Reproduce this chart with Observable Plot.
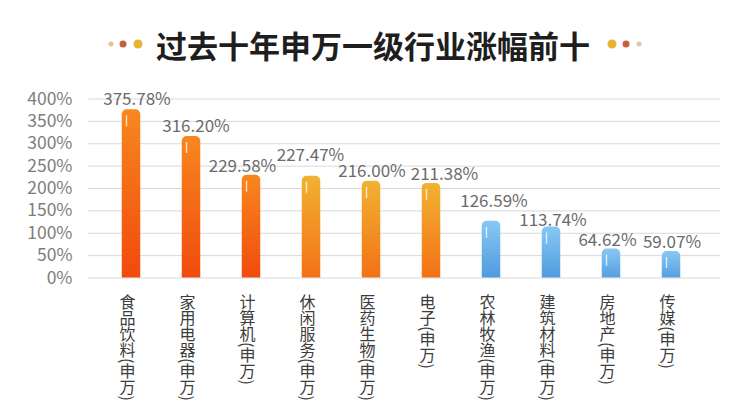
<!DOCTYPE html>
<html>
<head>
<meta charset="utf-8">
<script src="https://cdn.jsdelivr.net/npm/d3@7"></script>
<script src="https://cdn.jsdelivr.net/npm/@observablehq/plot@0.6"></script>
<style>
  html, body { margin: 0; padding: 0; background: #fff; }
  body { width: 752px; height: 419px; overflow: hidden; font-family: "Noto Sans CJK SC", "Noto Sans", sans-serif; }
  #header { position: relative; width: 752px; height: 80px; }
  #title { position: absolute; left: 373px; top: 44px; transform: translate(-50%, -50%); white-space: nowrap;
           font-size: 31px; font-weight: 700; color: #1e1e1e; letter-spacing: 0px; }
  .dot { position: absolute; border-radius: 50%; transform: translate(-50%, -50%); }
</style>
</head>
<body>
<div id="header">
  <div class="dot" style="left:110.5px;top:44px;width:5px;height:5px;background:#e2c38e"></div>
  <div class="dot" style="left:122.5px;top:44px;width:7px;height:7px;background:#c2623f"></div>
  <div class="dot" style="left:137.5px;top:44px;width:9px;height:9px;background:#e8b233"></div>
  <div id="title">过去十年申万一级行业涨幅前十</div>
  <div class="dot" style="left:612px;top:44px;width:9px;height:9px;background:#e8b233"></div>
  <div class="dot" style="left:626px;top:44px;width:7px;height:7px;background:#c2623f"></div>
  <div class="dot" style="left:638.5px;top:44px;width:5px;height:5px;background:#d8caa8"></div>
</div>
<div id="chart"></div>
<script>
// ---- data ----
const categories = ["食品饮料(申万)", "家用电器(申万)", "计算机(申万)", "休闲服务(申万)", "医药生物(申万)",
                    "电子(申万)", "农林牧渔(申万)", "建筑材料(申万)", "房地产(申万)", "传媒(申万)"];
const gains = [375.78, 316.20, 229.58, 227.47, 216.00, 211.38, 126.59, 113.74, 64.62, 59.07];
const barGroup = ["red", "red", "red", "gold", "gold", "gold", "blue", "blue", "blue", "blue"];
const yTicks = [0, 50, 100, 150, 200, 250, 300, 350, 400];
// label nudges (pixels) to mimic the reference's hand-placed data labels
const labelDx = [5.5, 4.5, -9, -1, 0.5, 13, 2.5, 1.5, -4, 0.5];
const labelGap = [5, 4.5, 3, 15, 4, 3, 14, 1.5, 3.5, 4];

const rows = categories.map((name, i) => ({
  name, value: gains[i], group: barGroup[i], label: gains[i].toFixed(2) + "%"
}));

const gradients = {
  red:  ["#f7871f", "#f0470c"],
  gold: ["#f1b232", "#f36c14"],
  blue: ["#88c7f3", "#4795dc"]
};

const defsMark = () => {
  const defs = d3.create("svg:defs");
  for (const [key, [top, bottom]] of Object.entries(gradients)) {
    const g = defs.append("linearGradient").attr("id", "grad-" + key)
      .attr("x1", 0).attr("y1", 0).attr("x2", 0).attr("y2", 1);
    g.append("stop").attr("offset", "0%").attr("stop-color", top);
    g.append("stop").attr("offset", "100%").attr("stop-color", bottom);
  }
  return defs.node();
};

const H = 339;
const svg = Plot.plot({
  width: 752,
  height: H,
  marginTop: 18.5,
  marginBottom: 141.5,
  marginLeft: 88,
  marginRight: 32,
  style: { fontFamily: "'Noto Sans CJK SC', 'Noto Sans', sans-serif", background: "transparent" },
  x: { domain: categories, range: [101, 701], padding: 0, axis: null },
  y: { domain: [0, 400], axis: null },
  color: { type: "identity" },
  marks: [
    defsMark,
    Plot.ruleY(yTicks, { stroke: "#d9d9d9", strokeWidth: 1 }),
    Plot.axisY({ ticks: yTicks, tickFormat: d => d + "%", tickSize: 0, tickPadding: 16,
                 fontSize: 17.5, color: "#7d7d7d", label: null }),
    Plot.barY(rows, { x: "name", y: "value", fill: d => "url(#grad-" + d.group + ")",
                      insetLeft: 20.75, insetRight: 20.75, insetBottom: -8, rx: 5, clip: true }),
    Plot.ruleX(rows, { x: "name", y1: "value", y2: "value", dx: -5, insetTop: 6, insetBottom: -17,
                       stroke: "#ffffff", strokeOpacity: 0.75, strokeWidth: 1.4 }),
    ...rows.map((r, i) => Plot.text([r], { x: "name", y: "value", text: "label",
                       dx: labelDx[i], dy: -labelGap[i], lineAnchor: "bottom",
                       fontSize: 17, fill: "#6b6b6b" })),
    Plot.text(rows, { x: "name", text: "name", frameAnchor: "bottom", dy: 16, dx: -4,
                      textAnchor: "start", lineAnchor: "top", fontSize: 16, fill: "#3c3c3c",
                      ariaLabel: () => "category" })
  ]
});

d3.select(svg).selectAll('text[aria-label="category"], g[aria-label="category"] text')
  .attr("writing-mode", "vertical-rl")
  .style("writing-mode", "vertical-rl")
  .attr("y", null)
  .attr("dy", null);

document.getElementById("chart").appendChild(svg);
</script>
</body>
</html>
